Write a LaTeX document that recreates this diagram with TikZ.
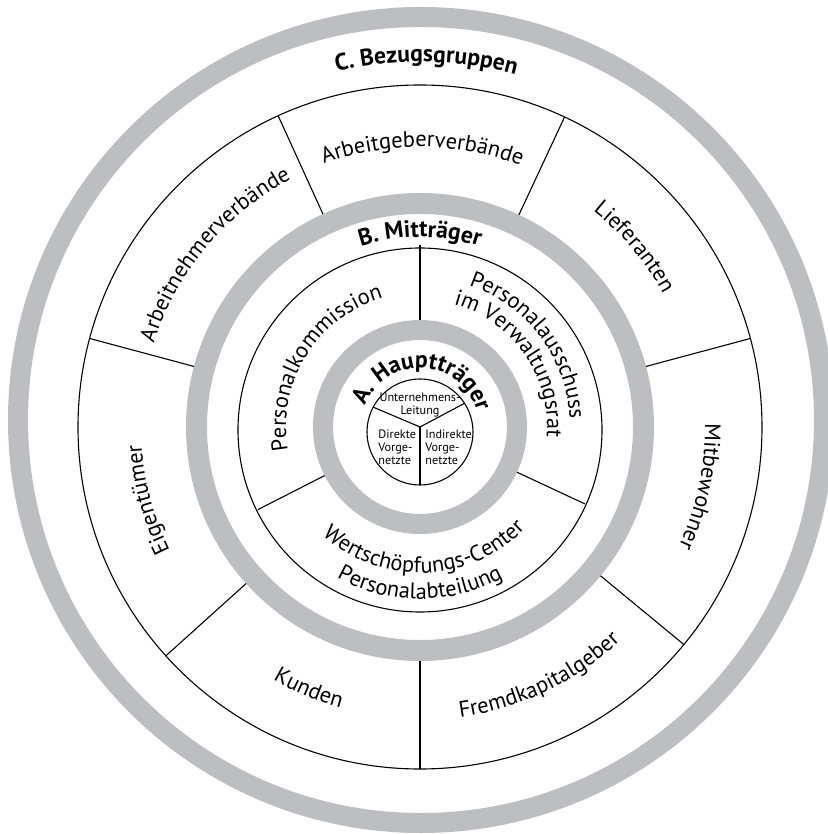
\documentclass[tikz,border=0pt]{standalone}
\usepackage{fontspec}
\setmainfont{PT Sans}
\usetikzlibrary{decorations.text}
\definecolor{ringgray}{RGB}{189,190,193}
\newcommand\lbl{\fontsize{11.2}{13}\selectfont}
\newcommand\hdr{\fontsize{11.8}{14}\selectfont\bfseries}
\newcommand\smalllbl{\fontsize{6.1}{6.6}\selectfont}

\begin{document}
\begin{tikzpicture}[x=0.5pt,y=0.5pt,
  ringband/.style={draw=ringgray,line width=10pt},
  divline/.style={line width=0.55pt},
  curvedtext/.style={decorate,decoration={text along path,text align=center,text={#1}}},
  inlbl/.style={inner sep=0pt,align=left,font=\smalllbl}]

  \useasboundingbox (-420,-407) rectangle (408,427);

  % gray rings
  \draw[ringband] (1,7) circle[radius=403];
  \draw[ringband,line width=10.5pt] (0,0) circle[radius=223.5];
  \draw[ringband] (0,0) circle[radius=97];

  % black circles
  \draw[divline] (0,0) circle[radius=342];
  \draw[divline] (0,-3) circle[radius=182];
  \draw[divline] (0,-5) circle[radius=53];

  % C: sectors
  \foreach \a in {114.5,65,15,-39.5,-90,-138,165}
    \draw[divline] (\a:234) -- (\a:342);
  % B: sectors
  \foreach \a in {90,-25,207}
    \draw[divline] (\a:107) -- (\a:182);
  % A: sectors
  \begin{scope}
    \clip (0,-5) circle[radius=53];
    \foreach \a in {157,28,-90}
      \draw[divline] (0,0) -- (\a:70);
  \end{scope}

  % C labels
  \path[curvedtext={|\hdr|C. Bezugsgruppen}] (159:365) arc[start angle=159,end angle=19,radius=365];
  \path[curvedtext={|\lbl|Arbeitgeberverbände}] (159.5:280) arc[start angle=159.5,end angle=19.5,radius=280];
  \path[curvedtext={|\lbl|Lieferanten}] (110:277) arc[start angle=110,end angle=-30,radius=277];
  \path[curvedtext={|\lbl|Mitbewohner}] (58:285) arc[start angle=58,end angle=-82,radius=285];
  \path[curvedtext={|\lbl|Fremdkapitalgeber}] (-134.5:293) arc[start angle=-134.5,end angle=5.5,radius=293];
  \path[curvedtext={|\lbl|Kunden}] (-183:292) arc[start angle=-183,end angle=-43,radius=292];
  \path[curvedtext={|\lbl|Eigentümer}] (265:279) arc[start angle=265,end angle=125,radius=279];
  \path[curvedtext={|\lbl|Arbeitnehmerverbände}] (210:279) arc[start angle=210,end angle=70,radius=279];

  % B labels
  \path[curvedtext={|\hdr|B. Mitträger}] (170:190) arc[start angle=170,end angle=10,radius=190];
  \path[curvedtext={|\lbl|Personalkommission}] (228:134) arc[start angle=228,end angle=68,radius=134];
  \path[curvedtext={|\lbl|Personalausschuss}] (117:150) arc[start angle=117,end angle=-43,radius=150];
  \path[curvedtext={|\lbl|im Verwaltungsrat}] (115:127) arc[start angle=115,end angle=-45,radius=127];
  \path[curvedtext={|\lbl|Wertschöpfungs-Center}] (-168:146) arc[start angle=-168,end angle=-8,radius=146];
  \path[curvedtext={|\lbl|Personalabteilung}] (-170:172) arc[start angle=-170,end angle=-10,radius=172];

  % A labels
  \path[curvedtext={|\hdr|A. Hauptträger}] (172:59) arc[start angle=172,end angle=2,radius=59];
  \node[inlbl,align=center] (leitung) at (0,22) {Unternehmens-\\Leitung};
  \node[inlbl,anchor=west] (direkt) at (-42,-20) {Direkte\\Vorge-\\netzte};
  \node[inlbl,anchor=west] (indirekt) at (5,-20) {Indirekte\\Vorge-\\netzte};
\end{tikzpicture}
\end{document}
